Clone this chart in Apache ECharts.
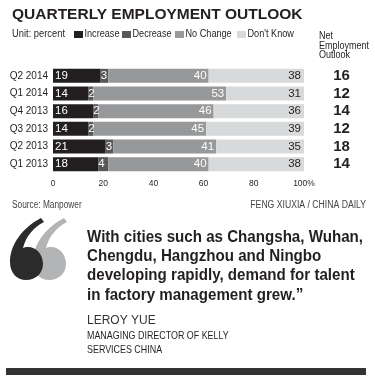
<!DOCTYPE html>
<html>
<head>
<meta charset="utf-8">
<script src="https://cdn.jsdelivr.net/npm/echarts@6/dist/echarts.min.js"></script>
<style>
  html, body { margin: 0; padding: 0; background: #fff; }
  #chart { width: 375px; height: 379px; }
</style>
</head>
<body>
<div id="chart"></div>
<script>
// data
var quarters = ['Q2 2014', 'Q1 2014', 'Q4 2013', 'Q3 2013', 'Q2 2013', 'Q1 2013'];
var increase = [19, 14, 16, 14, 21, 18];
var decrease = [3, 2, 2, 2, 3, 4];
var noChange = [40, 53, 46, 45, 41, 40];
var dontKnow = [38, 31, 36, 39, 35, 38];
var netOutlook = [16, 12, 14, 12, 18, 14];
var xTicks = [0, 20, 40, 60, 80, 100];

var sans = "'Liberation Sans', Arial, sans-serif";
var ink = '#231f20';
var colors = ['#231f20', '#58585a', '#97989a', '#d8d9da'];
var legendNames = ['Increase', 'Decrease', 'No Change', "Don't Know"];
var legendX = [74, 122, 175, 237];

// big opening quote mark, one "6" shape drawn twice
var quotePath = 'M41 218 C22 228 10 245 10 262 C10 273 17 280 26 280 C36 280 43 273 43 264 C43 254 36 247 28 247 C26 247 24 247.5 23 248 C26 236 34 227 44 222 Z';
echarts.graphic.registerShape('quoteMark', echarts.graphic.extendPath(quotePath, {}));

// text placed by its baseline; sx squeezes a regular font to look narrow
function txt(x, base, s, size, weight, extra) {
    var st = { text: s, fill: ink, font: weight + ' ' + size + 'px ' + sans, verticalAlign: 'middle' };
    var sx = 1;
    for (var k in (extra || {})) {
        if (k === 'sx') sx = extra[k]; else st[k] = extra[k];
    }
    return { type: 'text', x: x, y: base - 0.34 * size, scaleX: sx, style: st };
}

function seg(name, data, color, labelColor, pos, dist) {
    return {
        name: name,
        type: 'bar',
        stack: 'all',
        barWidth: 14,
        data: data,
        itemStyle: { color: color },
        label: {
            show: true,
            position: pos,
            distance: dist,
            color: labelColor,
            fontFamily: sans,
            fontSize: 11.5
        }
    };
}

var chart = echarts.init(document.getElementById('chart'));

var graphics = [
    txt(12, 19.5, 'QUARTERLY EMPLOYMENT OUTLOOK', 15.5, 'bold'),
    txt(12, 38, 'Unit: percent', 11, 'normal', { sx: 0.85 }),
    txt(319, 40, 'Net', 11, 'normal', { sx: 0.82 }),
    txt(319, 49.5, 'Employment', 11, 'normal', { sx: 0.82 }),
    txt(319, 59, 'Outlook', 11, 'normal', { sx: 0.82 }),
    txt(12, 209, 'Source: Manpower', 10, 'normal', { sx: 0.83, fill: '#444' }),
    txt(366, 209, 'FENG XIUXIA / CHINA DAILY', 10, 'normal', { sx: 0.865, fill: '#444', align: 'right' }),
    { type: 'quoteMark', x: 23, y: 0, style: { fill: '#b3b4b6' } },
    { type: 'quoteMark', x: 0, y: 0, style: { fill: '#2b2b2b' } },
    txt(87, 242.7, 'With cities such as Changsha, Wuhan,', 16, 'bold', { sx: 0.945 }),
    txt(87, 262, 'Chengdu, Hangzhou and Ningbo', 16, 'bold', { sx: 0.945 }),
    txt(87, 281.5, 'developing rapidly, demand for talent', 16, 'bold', { sx: 0.945 }),
    txt(87, 301, 'in factory management grew.\u201D', 16, 'bold', { sx: 0.945 }),
    txt(87, 325, 'LEROY YUE', 12, 'normal', { fill: '#333' }),
    txt(87, 340, 'MANAGING DIRECTOR OF KELLY', 11, 'normal', { sx: 0.81 }),
    txt(87, 354, 'SERVICES CHINA', 11, 'normal', { sx: 0.81 }),
    { type: 'rect', shape: { x: 6, y: 368, width: 360, height: 7 }, style: { fill: '#333' } }
];
legendNames.forEach(function (n, i) {
    graphics.push({ type: 'rect', shape: { x: legendX[i], y: 31, width: 9, height: 7 }, style: { fill: colors[i] } });
    graphics.push(txt(legendX[i] + 10.5, 38, n, 11, 'normal', { sx: 0.83 }));
});

var option = {
    backgroundColor: '#fff',
    animation: false,
    textStyle: { fontFamily: sans },
    grid: { left: 53, right: 71, top: 67, bottom: 206 },
    xAxis: {
        type: 'value',
        min: 0,
        max: 100,
        interval: 20,
        axisLine: { show: false },
        axisTick: { show: false },
        splitLine: { show: false },
        axisLabel: {
            margin: 6,
            color: ink,
            fontFamily: sans,
            fontSize: 8.5,
            formatter: function (v) {
                return xTicks.indexOf(v) < 0 ? '' : (v === 100 ? v + '%' : v);
            }
        }
    },
    yAxis: [
        {
            type: 'category',
            inverse: true,
            data: quarters,
            axisLine: { show: false },
            axisTick: { show: false },
            axisLabel: { margin: 5, color: ink, fontFamily: sans, fontSize: 10 }
        },
        {
            type: 'category',
            inverse: true,
            position: 'right',
            data: netOutlook.map(String),
            axisLine: { show: false },
            axisTick: { show: false },
            axisLabel: {
                interval: 0,
                margin: 37.5,
                align: 'center',
                color: ink,
                fontFamily: sans,
                fontWeight: 'bold',
                fontSize: 15
            }
        }
    ],
    series: [
        seg(legendNames[0], increase, colors[0], '#fff', 'insideLeft', 2),
        seg(legendNames[1], decrease, colors[1], '#fff', 'insideLeft', 0),
        seg(legendNames[2], noChange, colors[2], '#fff', 'insideRight', 2),
        seg(legendNames[3], dontKnow, colors[3], ink, 'insideRight', 3)
    ],
    graphic: graphics
};

chart.setOption(option);
</script>
</body>
</html>
